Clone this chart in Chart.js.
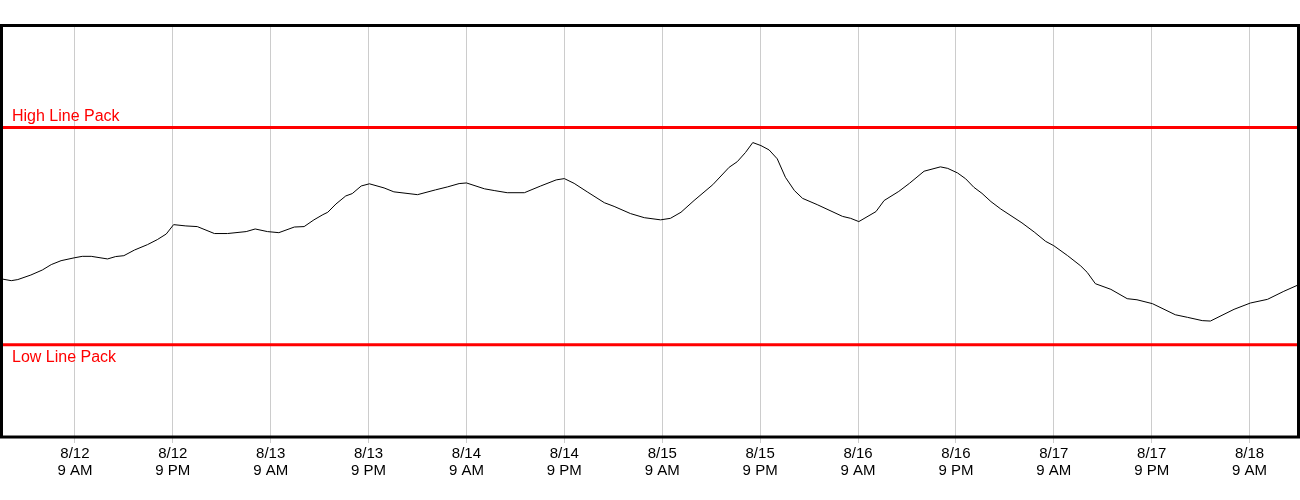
<!DOCTYPE html>
<html>
<head>
<meta charset="utf-8">
<script src="https://cdn.jsdelivr.net/npm/chart.js@4.4.1/dist/chart.umd.min.js"></script>
<style>
    html, body { margin: 0; padding: 0; background: #fff; }
    #wrap { width: 1300px; height: 500px; position: relative; }
</style>
</head>
<body>
<div id="wrap"><canvas id="linePackChart"></canvas></div>
<script>
// 小时数（从 8/12 0:00 起）和管存值（低限=0，高限=100）
const hours = [0, 1.2, 2.0, 3.6, 5.0, 6.1, 7.3, 8.9, 9.9, 11.0, 13.0, 14.0, 15.0, 16.3, 17.9, 19.1, 20.2, 21.1,
    22.6, 24.0, 26.1, 27.7, 30.0, 31.1, 32.6, 34.0, 35.9, 37.1, 38.3, 39.4, 40.0, 41.0, 42.2, 43.0, 44.1, 45.1,
    46.9, 48.1, 51.0, 53.2, 54.7, 56.1, 57.0, 59.2, 60.4, 62.0, 64.1, 66.1, 68.0, 69.0, 70.2, 71.8, 73.9, 75.1,
    77.1, 78.8, 80.8, 82.0, 83.3, 84.9, 87.2, 89.2, 90.2, 91.2, 92.1, 93.1, 94.1, 95.1, 96.1, 97.2, 98.2, 100.0,
    103.1, 104.1, 105.1, 107.2, 108.2, 110.0, 111.3, 113.1, 115.1, 116.0, 117.2, 118.2, 119.2, 120.2, 121.3,
    122.5, 125.1, 126.6, 128.0, 129.0, 130.7, 132.3, 133.1, 134.1, 136.0, 138.0, 139.2, 141.1, 143.9, 145.4,
    147.2, 148.2, 151.1, 153.1, 155.2, 157.2, 159];
const packValues = [30.3, 29.5, 30.0, 32.1, 34.4, 36.9, 38.7, 40.0, 40.7, 40.7, 39.5, 40.6, 41.0, 43.6, 46.1, 48.4, 51.0, 55.3,
    54.7, 54.4, 51.2, 51.2, 52.1, 53.3, 52.1, 51.6, 54.2, 54.4, 57.5, 59.9, 61.0, 64.8, 68.5, 69.6, 73.1, 74.1,
    72.2, 70.4, 69.1, 71.3, 72.7, 74.2, 74.5, 71.8, 71.0, 70.0, 70.0, 73.1, 75.9, 76.5, 74.3, 70.4, 65.4, 63.7,
    60.4, 58.5, 57.5, 58.2, 61.0, 66.4, 73.7, 81.7, 84.3, 88.5, 93.1, 91.7, 89.7, 85.6, 77.1, 71.0, 67.4, 64.5,
    59.1, 58.2, 56.7, 61.3, 66.4, 70.6, 74.3, 79.9, 81.9, 81.2, 79.1, 76.4, 72.5, 69.7, 65.9,
    62.5, 56.1, 51.9, 47.6, 45.6, 41.0, 36.3, 33.3, 28.1, 25.5, 21.2, 20.7, 18.9, 13.8, 12.6,
    11.1, 10.9, 16.3, 19.2, 20.9, 24.6, 27.6];

const highLinePack = 100;
const lowLinePack = 0;

const tickHours = [9, 21, 33, 45, 57, 69, 81, 93, 105, 117, 129, 141, 153];
const tickDates = ['8/12', '8/12', '8/13', '8/13', '8/14', '8/14', '8/15', '8/15', '8/16', '8/16', '8/17', '8/17', '8/18'];
const tickTimes = ['9 AM', '9 PM', '9 AM', '9 PM', '9 AM', '9 PM', '9 AM', '9 PM', '9 AM', '9 PM', '9 AM', '9 PM', '9 AM'];

const FONT = '"Liberation Sans", Arial, sans-serif';

// 外框 + 限值文字
const framePlugin = {
    id: 'frame',
    afterDraw(chart) {
        const { ctx, chartArea: a, scales } = chart;
        ctx.save();
        ctx.strokeStyle = '#000';
        ctx.lineWidth = 3;
        ctx.strokeRect(a.left, a.top, a.right - a.left, a.bottom - a.top);

        ctx.fillStyle = '#ff0000';
        ctx.font = '16px ' + FONT;
        ctx.textBaseline = 'alphabetic';
        const yHigh = scales.y.getPixelForValue(highLinePack);
        const yLow = scales.y.getPixelForValue(lowLinePack);
        ctx.fillText('High Line Pack', a.left + 10.5, yHigh - 7);
        ctx.fillText('Low Line Pack', a.left + 10.5, yLow + 17.5);
        ctx.restore();
    }
};

function initChart() {
    const ctx = document.getElementById('linePackChart');
    const xMin = 0, xMax = 159;
    window.packChart = new Chart(ctx, {
        type: 'line',
        data: {
            datasets: [
                {
                    label: 'Line Pack',
                    data: hours.map((h, i) => ({ x: h, y: packValues[i] })),
                    borderColor: '#000',
                    borderWidth: 1,
                    pointRadius: 0,
                    tension: 0
                },
                {
                    label: 'High Line Pack',
                    data: [{ x: xMin, y: highLinePack }, { x: xMax, y: highLinePack }],
                    borderColor: '#ff0000',
                    borderWidth: 3,
                    pointRadius: 0
                },
                {
                    label: 'Low Line Pack',
                    data: [{ x: xMin, y: lowLinePack }, { x: xMax, y: lowLinePack }],
                    borderColor: '#ff0000',
                    borderWidth: 3,
                    pointRadius: 0
                }
            ]
        },
        options: {
            responsive: true,
            maintainAspectRatio: false,
            animation: false,
            layout: { padding: { left: 1.5, right: 1.5, top: 25.5, bottom: 19 } },
            plugins: { legend: { display: false }, tooltip: { enabled: false } },
            scales: {
                x: {
                    type: 'linear',
                    min: xMin,
                    max: xMax,
                    afterBuildTicks(axis) {
                        axis.ticks = tickHours.map(v => ({ value: v }));
                    },
                    grid: { color: '#cccccc', lineWidth: 1, drawTicks: true, tickLength: 6, tickColor: '#cccccc' },
                    border: { display: false },
                    ticks: {
                        autoSkip: false,
                        maxRotation: 0,
                        padding: 2,
                        color: '#000',
                        font: { family: FONT, size: 15, lineHeight: 1.133 },
                        callback: (v, i) => [tickDates[i], tickTimes[i]]
                    }
                },
                y: {
                    display: false,
                    min: -42.5,
                    max: 147
                }
            }
        },
        plugins: [framePlugin]
    });
}

initChart();
</script>
</body>
</html>
